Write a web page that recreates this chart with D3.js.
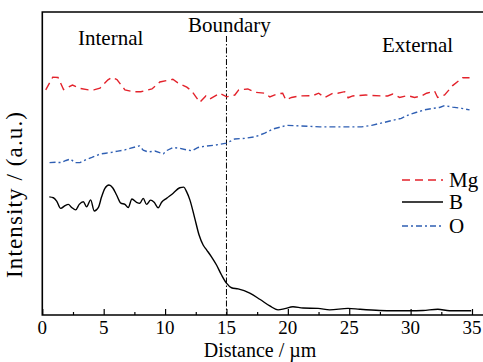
<!DOCTYPE html>
<html>
<head>
<meta charset="utf-8">
<script src="https://cdn.jsdelivr.net/npm/d3@7/dist/d3.min.js"></script>
<style>
  html, body { margin: 0; padding: 0; background: #fff; }
  svg text { font-family: "Liberation Serif", "Times New Roman", serif; fill: #000; }
</style>
</head>
<body>
<svg id="chart" width="483" height="362"></svg>
<script>
// Line-scan intensity profile across the boundary (distance in um, intensity a.u.)
var mgDist = [0.28, 0.85, 1.28, 1.73, 2.46, 3.07, 3.76, 4.2, 4.7, 5.35, 5.67, 6.08, 6.73, 7.38, 8.03, 8.93, 9.57,
  10.63, 11.04, 11.77, 12.18, 12.83, 13.32, 13.64, 14.46, 15.03, 15.68, 16.0, 16.74, 17.31, 18.12, 18.53, 19.1,
  19.58, 19.83, 20.3, 20.96, 22.03, 22.51, 23.0, 23.65, 24.06, 24.63, 24.91, 25.28, 26.34, 27.56, 28.13, 28.54,
  29.1, 29.76, 30.32, 30.9, 31.3, 31.95, 32.2, 32.77, 33.42, 34.23, 34.8];
var mgVals = [74.3, 78.5, 78.4, 74.4, 75.9, 74.8, 74.3, 74.3, 74.9, 77.6, 78.4, 77.7, 74.3, 73.7, 73.7, 74.6, 76.9,
  77.8, 76.6, 75.2, 73.9, 70.2, 72.3, 71.3, 73.2, 72.0, 72.6, 74.3, 74.6, 73.5, 73.2, 72.0, 72.9,
  73.2, 71.0, 71.8, 72.3, 72.4, 73.2, 71.8, 73.2, 73.2, 73.7, 71.7, 72.3, 72.6, 72.3, 72.3, 72.9,
  71.8, 72.4, 71.8, 72.3, 73.2, 73.9, 71.8, 72.6, 75.7, 78.3, 78.3];

var bDist = [0.57, 0.9, 1.17, 1.5, 1.85, 2.12, 2.39, 2.72, 3.01, 3.34, 3.61, 3.94, 4.23, 4.56, 4.83, 5.1, 5.43,
  5.73, 6.05, 6.4, 6.73, 7.0, 7.3, 7.68, 7.95, 8.22, 8.49, 8.82, 9.11, 9.44, 9.72, 10.12, 10.66, 11.2, 11.53,
  11.75, 12.02, 12.42, 12.77, 13.1, 13.38, 13.78, 14.19, 14.6, 15.0, 15.41, 15.95, 16.9, 17.71, 18.53, 19.2,
  19.75, 20.42, 21.24, 22.46, 23.41, 24.9, 25.85, 27.48, 28.56, 29.92, 31.0, 32.22, 33.17, 34.53, 34.94];
var bVals = [39.0, 38.7, 37.6, 35.2, 36.1, 36.5, 35.5, 34.7, 36.5, 37.4, 35.7, 38.0, 34.3, 35.4, 39.0, 41.8, 42.9,
  42.0, 39.6, 36.9, 36.5, 35.5, 38.3, 37.2, 36.9, 38.5, 36.5, 37.9, 37.2, 35.4, 37.2, 38.5, 40.2, 42.0, 42.2,
  40.7, 38.0, 31.9, 26.4, 23.1, 21.5, 19.2, 16.5, 13.2, 10.5, 9.0, 8.6, 7.2, 5.2, 3.0, 1.7,
  2.1, 2.7, 2.3, 2.2, 1.7, 2.2, 1.9, 1.5, 1.4, 1.4, 1.5, 1.9, 1.4, 1.4, 1.4];

var oDist = [0.59, 1.11, 1.52, 1.93, 2.29, 2.66, 3.07, 3.47, 4.04, 4.69, 5.18, 5.67, 6.16, 6.73, 7.14, 7.7, 7.91,
  8.22, 8.62, 9.17, 9.86, 10.15, 10.66, 11.2, 11.75, 12.18, 12.69, 13.24, 14.13, 15.0, 15.68, 16.49, 17.31,
  18.12, 18.8, 19.48, 19.91, 20.97, 22.6, 24.22, 26.01, 26.83, 27.88, 28.7, 29.24, 29.92, 30.49, 31.14, 31.79,
  32.36, 32.77, 33.42, 34.15, 34.8];
var oVals = [50.3, 50.4, 50.3, 51.0, 51.5, 50.3, 50.3, 51.1, 52.0, 53.1, 53.4, 53.7, 54.1, 54.5, 55.0, 55.6, 55.8,
  54.4, 53.8, 54.1, 53.2, 54.3, 55.3, 55.0, 54.5, 54.2, 55.3, 55.7, 56.1, 56.7, 58.1, 58.3, 58.8,
  60.0, 61.4, 62.1, 62.6, 62.4, 62.1, 62.1, 62.1, 62.6, 63.6, 64.4, 64.9, 66.2, 66.9, 67.7, 68.2,
  68.5, 69.1, 68.6, 68.2, 67.7];

var xTicks = [0, 5, 10, 15, 20, 25, 30, 35];
var xMinorTicks = [2.5, 7.5, 12.5, 17.5, 22.5, 27.5, 32.5];
var boundaryAt = 15;
var regionLabels = ["Internal", "Boundary", "External"];
var seriesNames = ["Mg", "B", "O"];

var svg = d3.select("#chart");

// note: "top" is taken by window.top, so use plot* names
var plotLeft = 42.3, plotTop = 12, plotBottom = 315;

var x = d3.scaleLinear().domain([0, 35]).range([plotLeft, 472]);
var y = d3.scaleLinear().domain([0, 100]).range([plotBottom, plotTop]);

var series = [
  { name: seriesNames[0], dist: mgDist, vals: mgVals, color: "#e3222b", dash: "8,5", width: 1.4, curve: d3.curveLinear },
  { name: seriesNames[1], dist: bDist, vals: bVals, color: "#000", dash: null, width: 1.4, curve: d3.curveMonotoneX },
  { name: seriesNames[2], dist: oDist, vals: oVals, color: "#2f5fb3", dash: "6,3,2,3", width: 1.4, curve: d3.curveLinear }
];

// frame (right edge falls outside the picture)
var plotRight = x(36.2);
svg.append("path")
    .attr("d", "M" + plotRight + "," + plotTop + "H" + plotLeft + "V" + plotBottom + "H" + plotRight)
    .attr("fill", "none")
    .attr("stroke", "#000")
    .attr("stroke-width", 1.6);

// inward ticks on the x axis
function styleTicks(g) {
    g.select(".domain").remove();
    g.selectAll("line").attr("stroke-width", 1.2);
}

svg.append("g")
    .attr("transform", "translate(0," + plotBottom + ")")
    .call(d3.axisTop(x).tickValues(xTicks).tickSize(6).tickFormat(""))
    .call(styleTicks);

svg.append("g")
    .attr("transform", "translate(0," + plotBottom + ")")
    .call(d3.axisTop(x).tickValues(xMinorTicks).tickSize(3).tickFormat(""))
    .call(styleTicks);

// tick labels
svg.append("g").selectAll("text")
    .data(xTicks)
    .join("text")
    .attr("x", function(d) { return x(d); })
    .attr("y", 334)
    .attr("text-anchor", "middle")
    .attr("font-size", "19px")
    .text(function(d) { return d; });

// axis titles
svg.append("text")
    .attr("x", 260)
    .attr("y", 357)
    .attr("text-anchor", "middle")
    .attr("font-size", "20px")
    .text("Distance / \u00b5m");

svg.append("text")
    .attr("transform", "translate(22,195) rotate(-90)")
    .attr("text-anchor", "middle")
    .attr("font-size", "23px")
    .attr("textLength", 166)
    .attr("lengthAdjust", "spacing")
    .text("Intensity / (a.u.)");

// boundary marker
svg.append("line")
    .attr("x1", x(boundaryAt)).attr("x2", x(boundaryAt))
    .attr("y1", 36).attr("y2", plotBottom)
    .attr("stroke", "#000")
    .attr("stroke-width", 1)
    .attr("stroke-dasharray", "6,2,1.5,2");

// region labels
svg.append("text").attr("x", 78).attr("y", 45).attr("font-size", "21px").text(regionLabels[0]);
svg.append("text").attr("x", 188).attr("y", 32).attr("font-size", "21px").text(regionLabels[1]);
svg.append("text").attr("x", 382).attr("y", 52).attr("font-size", "21px").text(regionLabels[2]);

// profile lines
series.forEach(function(s) {
    var pts = s.dist.map(function(d, i) { return [d, s.vals[i]]; });
    var line = d3.line()
        .x(function(p) { return x(p[0]); })
        .y(function(p) { return y(p[1]); })
        .curve(s.curve);

    svg.append("path")
        .datum(pts)
        .attr("d", line)
        .attr("fill", "none")
        .attr("stroke", s.color)
        .attr("stroke-width", s.width)
        .attr("stroke-dasharray", s.dash);
});

// legend
var legendY = [180, 202, 226];
var legend = svg.append("g");
series.forEach(function(s, i) {
    legend.append("line")
        .attr("x1", 402).attr("x2", 443)
        .attr("y1", legendY[i]).attr("y2", legendY[i])
        .attr("stroke", s.color)
        .attr("stroke-width", s.width)
        .attr("stroke-dasharray", s.dash);
    legend.append("text")
        .attr("x", 449)
        .attr("y", legendY[i] + 7)
        .attr("font-size", "21px")
        .text(s.name);
});
</script>
</body>
</html>
